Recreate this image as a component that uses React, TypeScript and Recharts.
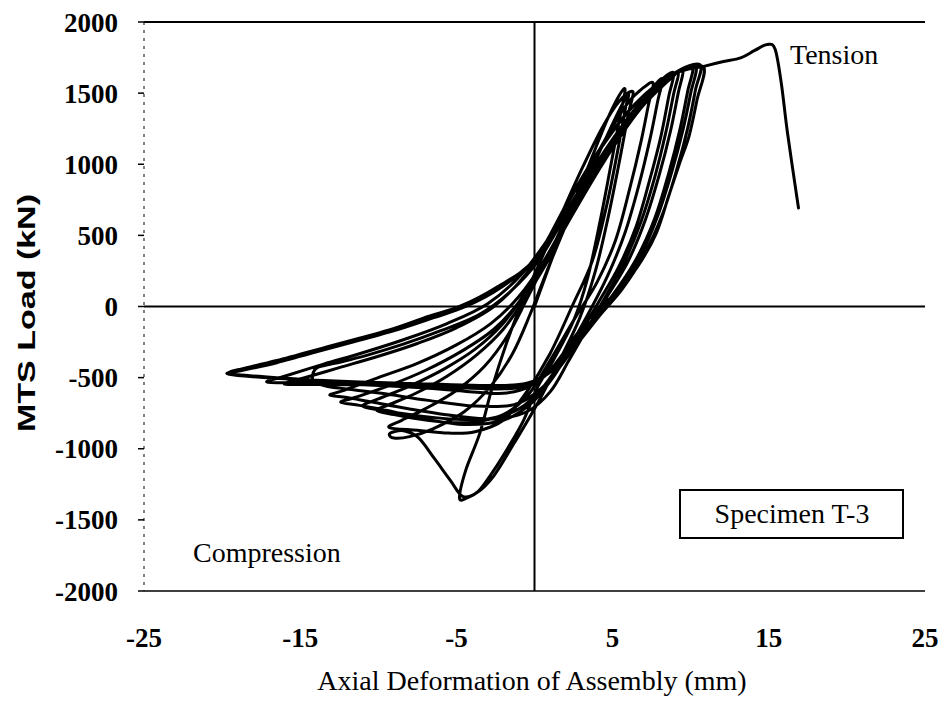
import React from "react";
import { LineChart, Line, XAxis, YAxis, ReferenceLine } from "recharts";

// Axis ticks
const X_TICKS = [-25, -15, -5, 5, 15, 25];
const Y_TICKS = [-2000, -1500, -1000, -500, 0, 500, 1000, 1500, 2000];

// Hysteresis path as [deformation mm, load kN], in loading order
const UP_0 = [[0, 0], [1.0, 300], [2.2, 650], [3.5, 1000], [4.6, 1300], [5.4, 1480], [5.8, 1525]];
const DOWN_0 = [[5.5, 1350], [4.9, 1000], [4.2, 600], [3.4, 200], [2.5, -100], [1.2, -380], [0.2, -566], [-0.7, -800], [-1.9, -1030], [-2.9, -1200], [-3.6, -1300], [-4.3, -1345], [-4.8, -1345]];
const UP_1 = [[-4.4, -1150], [-3.5, -890], [-2.7, -566], [-1.8, -260], [-0.9, 0], [0.3, 300], [1.6, 620], [3.0, 960], [4.3, 1250], [5.4, 1440], [6.3, 1510]];
const DOWN_1 = [[6.0, 1350], [5.4, 1000], [4.7, 620], [3.9, 250], [2.9, -80], [1.6, -380], [0.2, -680], [-1.3, -960], [-2.6, -1190], [-3.7, -1310], [-4.6, -1335], [-5.4, -1220], [-6.4, -1070], [-7.4, -925], [-8.3, -875], [-9.0, -880], [-9.3, -900], [-9.0, -925], [-8.0, -915]];
const UP_2 = [[-6.5, -860], [-4.5, -740], [-2.8, -560], [-1.4, -330], [-0.3, -60], [0.8, 250], [2.2, 620], [3.8, 1000], [5.2, 1330], [6.0, 1490]];
const DOWN_2 = [[5.8, 1380], [5.3, 1080], [4.6, 700], [3.7, 320], [2.4, 0], [1.0, -330], [-0.5, -600], [-2.0, -800], [-3.8, -880], [-5.5, -890], [-7.5, -870], [-9.3, -850]];
const UP_3 = [[-8.5, -800], [-7.0, -720], [-5.0, -590], [-3.2, -420], [-1.7, -200], [-0.5, 50], [1.0, 380], [2.6, 760], [4.3, 1130], [5.9, 1420], [7.0, 1540], [7.6, 1570]];
const DOWN_3 = [[7.3, 1420], [6.8, 1150], [6.1, 830], [5.2, 470], [4.0, 170], [2.6, -80], [1.0, -380], [-0.4, -620], [-2.0, -760], [-3.8, -810], [-5.5, -815], [-7.5, -790], [-9.0, -760], [-10.1, -730]];
const UP_4 = [[-9.3, -690], [-7.6, -610], [-5.6, -490], [-3.7, -340], [-2.0, -160], [-0.6, 60], [0.9, 330], [2.5, 680], [4.3, 1030], [6.1, 1330], [7.5, 1530], [8.2, 1600]];
const DOWN_4 = [[7.9, 1450], [7.4, 1180], [6.7, 860], [5.8, 520], [4.7, 220], [3.4, -60], [2.0, -330], [0.6, -560], [-1.0, -720], [-3.0, -790], [-5.5, -790], [-8.0, -760], [-9.8, -730], [-11.0, -700]];
const UP_5 = [[-10.0, -650], [-8.0, -560], [-5.8, -440], [-3.8, -300], [-2.1, -130], [-0.7, 80], [0.8, 350], [2.5, 700], [4.4, 1060], [6.3, 1370], [7.9, 1570], [8.9, 1644]];
const DOWN_5 = [[8.6, 1480], [8.1, 1200], [7.4, 900], [6.5, 560], [5.4, 280], [4.1, 30], [2.7, -230], [1.3, -480], [-0.2, -680], [-2.0, -800], [-4.5, -830], [-7.0, -790], [-9.5, -730], [-11.2, -695], [-12.4, -673]];
const UP_6 = [[-11.5, -640], [-9.4, -560], [-7.0, -450], [-4.6, -310], [-2.6, -160], [-1.0, 30], [0.6, 290], [2.4, 640], [4.4, 1010], [6.5, 1350], [8.2, 1560], [9.2, 1650]];
const DOWN_6 = [[8.9, 1490], [8.4, 1220], [7.7, 910], [6.8, 590], [5.7, 300], [4.5, 60], [3.4, -150], [2.2, -380], [1.0, -600], [-0.5, -740], [-2.5, -790], [-5.0, -770], [-8.0, -720], [-10.5, -670], [-12.0, -640], [-13.1, -623]];
const UP_7 = [[-12.2, -590], [-10.0, -500], [-7.5, -400], [-5.0, -270], [-2.8, -120], [-1.0, 70], [0.6, 320], [2.4, 670], [4.5, 1040], [6.7, 1380], [8.6, 1590], [9.5, 1665]];
const DOWN_7 = [[9.2, 1500], [8.7, 1230], [8.0, 930], [7.1, 610], [6.0, 320], [4.7, 80], [3.3, -160], [1.8, -400], [0.4, -580], [-1.3, -690], [-3.8, -700], [-6.8, -660], [-9.8, -610], [-12.0, -580], [-13.3, -560], [-14.1, -530], [-14.2, -480], [-13.9, -430]];
const UP_8 = [[-12.8, -400], [-10.8, -345], [-8.4, -265], [-6.0, -170], [-3.6, -60], [-1.6, 100], [0.3, 330], [2.3, 700], [4.5, 1080], [6.8, 1420], [8.8, 1620], [10.1, 1686]];
const DOWN_8 = [[9.8, 1510], [9.3, 1240], [8.6, 940], [7.7, 620], [6.5, 330], [5.0, 80], [3.2, -160], [1.4, -400], [-0.3, -560], [-2.0, -610], [-4.5, -595], [-7.5, -570], [-11.0, -550], [-14.5, -538], [-17.1, -532]];
const UP_9 = [[-16.0, -490], [-13.5, -405], [-11.0, -325], [-8.3, -230], [-5.6, -120], [-3.0, 20], [-0.8, 230], [1.4, 560], [3.8, 980], [6.3, 1370], [8.7, 1620], [10.3, 1690]];
const DOWN_9 = [[10.0, 1500], [9.5, 1240], [8.8, 950], [7.9, 640], [6.8, 360], [5.4, 120], [3.9, -90], [2.4, -300], [0.9, -470], [-1.0, -570], [-4.0, -575], [-7.5, -560], [-11.0, -550], [-14.0, -548], [-16.0, -545]];
const UP_10 = [[-15.0, -510], [-12.5, -430], [-10.0, -350], [-7.5, -260], [-5.0, -150], [-2.6, 0], [-0.6, 220], [1.5, 560], [3.9, 980], [6.4, 1380], [8.8, 1630], [10.6, 1700]];
const DOWN_10 = [[10.3, 1520], [9.8, 1250], [9.1, 960], [8.2, 650], [7.0, 360], [5.6, 120], [4.2, -60], [2.6, -280], [1.2, -440], [-0.5, -540], [-3.0, -555], [-6.5, -545], [-10.0, -535], [-13.5, -520], [-16.5, -500], [-19.0, -480], [-19.6, -468]];
const UP_11 = [[-19.0, -445], [-16.5, -380], [-13.0, -275], [-9.3, -165], [-6.8, -70], [-4.8, 0], [-2.5, 130], [0.0, 330], [2.1, 730], [4.2, 1110], [6.4, 1420], [8.7, 1620], [10.8, 1687]];
const DOWN_11 = [[10.4, 1450], [9.9, 1200], [9.3, 1010], [8.6, 780], [7.8, 516], [6.6, 280], [5.3, 100], [4.2, 0], [2.8, -180], [1.5, -380], [0.4, -510], [-1.5, -560], [-5.0, -560], [-9.0, -545], [-13.0, -530], [-16.5, -505], [-19.0, -485], [-19.7, -470]];
const UP_12 = [[-19.0, -455], [-16.5, -395], [-13.0, -290], [-9.3, -180], [-6.5, -80], [-4.4, 0], [-2.2, 130], [0.2, 350], [2.2, 740], [4.3, 1120], [6.5, 1430], [8.8, 1630], [10.9, 1690]];
const FINAL_PULL = [[12.1, 1722], [13.2, 1748], [14.1, 1800], [14.9, 1842], [15.4, 1810], [15.8, 1570], [16.2, 1218], [16.9, 693]];

const SEGMENTS = [
  UP_0, DOWN_0, UP_1, DOWN_1, UP_2, DOWN_2, UP_3, DOWN_3, UP_4, DOWN_4, UP_5, DOWN_5,
  UP_6, DOWN_6, UP_7, DOWN_7, UP_8, DOWN_8, UP_9, DOWN_9, UP_10, DOWN_10, UP_11, DOWN_11, UP_12, FINAL_PULL,
];
const data = SEGMENTS.flat().map(([x, y]) => ({ x, y }));

// Smooth Catmull-Rom style curve through the points (handles reversals in x)
function smoothCurve(context: any) {
  let pts: number[][] = [];
  return {
    areaStart() {},
    areaEnd() {},
    lineStart() {
      pts = [];
    },
    point(x: number, y: number) {
      pts.push([+x, +y]);
    },
    lineEnd() {
      if (!pts.length) return;
      context.moveTo(pts[0][0], pts[0][1]);
      const t = 1 / 6;
      for (let i = 0; i < pts.length - 1; i++) {
        const p0 = pts[i - 1] || pts[i];
        const p1 = pts[i];
        const p2 = pts[i + 1];
        const p3 = pts[i + 2] || p2;
        context.bezierCurveTo(
          p1[0] + (p2[0] - p0[0]) * t,
          p1[1] + (p2[1] - p0[1]) * t,
          p2[0] - (p3[0] - p1[0]) * t,
          p2[1] - (p3[1] - p1[1]) * t,
          p2[0],
          p2[1]
        );
      }
    },
  };
}

const SERIF = "'Liberation Serif', 'Times New Roman', serif";
const SANS = "'Liberation Sans', Arial, sans-serif";

export default function App() {
  return (
    <div style={{ position: "absolute", left: 0, top: 0, width: 948, height: 706, background: "#fff" }}>
      <LineChart width={948} height={706} data={data} margin={{ top: 22, right: 23, left: 0, bottom: 85 }}>
        <XAxis
          type="number"
          dataKey="x"
          domain={[-25, 25]}
          ticks={X_TICKS}
          allowDataOverflow
          tickLine={false}
          tickSize={0}
          tickMargin={37}
          height={30}
          axisLine={{ stroke: "#000", strokeWidth: 1.5 }}
          tick={{ fontFamily: SERIF, fontSize: 27, fontWeight: 700, fill: "#000" }}
        />
        <YAxis
          type="number"
          dataKey="y"
          domain={[-2000, 2000]}
          ticks={Y_TICKS}
          allowDataOverflow
          width={144}
          tickSize={6}
          tickMargin={20}
          tickLine={{ stroke: "#000", strokeWidth: 1.5 }}
          axisLine={{ stroke: "#000", strokeWidth: 1, strokeDasharray: "3 5" }}
          tick={{ fontFamily: SERIF, fontSize: 27, fontWeight: 700, fill: "#000" }}
        />
        <ReferenceLine y={2000} stroke="#000" strokeWidth={2} />
        <ReferenceLine y={0} stroke="#000" strokeWidth={2} />
        <ReferenceLine x={0} stroke="#000" strokeWidth={2} />
        <Line
          type={smoothCurve as any}
          dataKey="y"
          stroke="#000"
          strokeWidth={3}
          strokeLinejoin="round"
          strokeLinecap="round"
          dot={false}
          isAnimationActive={false}
        />
      </LineChart>
      <svg width={948} height={706} style={{ position: "absolute", left: 0, top: 0, pointerEvents: "none" }}>
        <text x={790} y={64} fontFamily={SERIF} fontSize={28} fill="#000">Tension</text>
        <text x={193} y={562} fontFamily={SERIF} fontSize={28} fill="#000">Compression</text>
        <rect x={680} y={490} width={223} height={48} fill="#fff" stroke="#000" strokeWidth={2} />
        <text x={792} y={523} textAnchor="middle" fontFamily={SERIF} fontSize={28} fill="#000">Specimen T-3</text>
        <text x={532} y={690} textAnchor="middle" fontFamily={SERIF} fontSize={28} fill="#000">Axial Deformation of Assembly (mm)</text>
        <text
          x={0}
          y={0}
          transform="translate(35 313) rotate(-90)"
          textAnchor="middle"
          fontFamily={SANS}
          fontWeight={700}
          fontSize={24}
          textLength={238}
          lengthAdjust="spacingAndGlyphs"
          fill="#000"
        >
          MTS Load (kN)
        </text>
      </svg>
    </div>
  );
}
